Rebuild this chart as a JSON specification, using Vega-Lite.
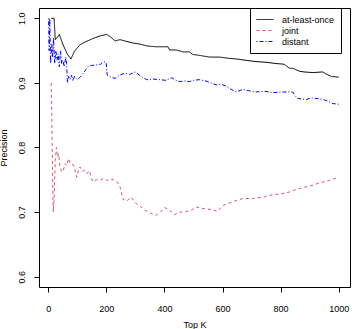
{
  "$schema": "https://vega.github.io/schema/vega-lite/v6.json",
  "width": 311,
  "height": 279,
  "autosize": {"type": "none"},
  "padding": {"left": 39, "top": 8, "right": 6, "bottom": 42},
  "background": "white",
  "config": {
    "font": "Liberation Sans",
    "view": {"stroke": "black", "strokeWidth": 1},
    "axis": {
      "grid": false, "domain": false, "tickColor": "black", "tickSize": 5, "tickWidth": 1,
      "labelFont": "Liberation Sans", "labelFontSize": 9, "labelColor": "black",
      "titleFont": "Liberation Sans", "titleFontSize": 9, "titleFontWeight": "normal", "titleColor": "black"
    },
    "legend": {
      "labelFont": "Liberation Sans", "labelFontSize": 9, "labelColor": "black"
    }
  },
  "data": {"values": [
    {"s":"at-least-once","k":10,"p":1.0},{"s":"at-least-once","k":20,"p":1.0},{"s":"at-least-once","k":24,"p":0.967},{"s":"at-least-once","k":30,"p":0.970},{"s":"at-least-once","k":38,"p":0.975},{"s":"at-least-once","k":50,"p":0.960},{"s":"at-least-once","k":65,"p":0.945},{"s":"at-least-once","k":78,"p":0.937},{"s":"at-least-once","k":90,"p":0.949},{"s":"at-least-once","k":109,"p":0.959},{"s":"at-least-once","k":130,"p":0.964},{"s":"at-least-once","k":155,"p":0.969},{"s":"at-least-once","k":180,"p":0.973},{"s":"at-least-once","k":201,"p":0.975},{"s":"at-least-once","k":215,"p":0.971},{"s":"at-least-once","k":230,"p":0.965},{"s":"at-least-once","k":247,"p":0.967},{"s":"at-least-once","k":263,"p":0.965},{"s":"at-least-once","k":290,"p":0.962},{"s":"at-least-once","k":316,"p":0.960},{"s":"at-least-once","k":343,"p":0.957},{"s":"at-least-once","k":371,"p":0.956},{"s":"at-least-once","k":412,"p":0.956},{"s":"at-least-once","k":418,"p":0.951},{"s":"at-least-once","k":440,"p":0.951},{"s":"at-least-once","k":464,"p":0.948},{"s":"at-least-once","k":486,"p":0.948},{"s":"at-least-once","k":498,"p":0.944},{"s":"at-least-once","k":516,"p":0.943},{"s":"at-least-once","k":555,"p":0.940},{"s":"at-least-once","k":590,"p":0.940},{"s":"at-least-once","k":623,"p":0.938},{"s":"at-least-once","k":650,"p":0.937},{"s":"at-least-once","k":681,"p":0.935},{"s":"at-least-once","k":715,"p":0.933},{"s":"at-least-once","k":750,"p":0.932},{"s":"at-least-once","k":784,"p":0.930},{"s":"at-least-once","k":812,"p":0.929},{"s":"at-least-once","k":830,"p":0.923},{"s":"at-least-once","k":846,"p":0.922},{"s":"at-least-once","k":865,"p":0.918},{"s":"at-least-once","k":881,"p":0.917},{"s":"at-least-once","k":911,"p":0.916},{"s":"at-least-once","k":945,"p":0.917},{"s":"at-least-once","k":960,"p":0.913},{"s":"at-least-once","k":975,"p":0.910},{"s":"at-least-once","k":1000,"p":0.909},

    {"s":"joint","k":10,"p":0.90},{"s":"joint","k":12,"p":0.85},{"s":"joint","k":14,"p":0.78},{"s":"joint","k":17,"p":0.70},{"s":"joint","k":20,"p":0.72},{"s":"joint","k":24,"p":0.78},{"s":"joint","k":28,"p":0.80},{"s":"joint","k":32,"p":0.785},{"s":"joint","k":36,"p":0.79},{"s":"joint","k":40,"p":0.77},{"s":"joint","k":46,"p":0.762},{"s":"joint","k":52,"p":0.765},{"s":"joint","k":58,"p":0.775},{"s":"joint","k":64,"p":0.772},{"s":"joint","k":69,"p":0.783},{"s":"joint","k":76,"p":0.775},{"s":"joint","k":86,"p":0.773},{"s":"joint","k":92,"p":0.765},{"s":"joint","k":98,"p":0.754},{"s":"joint","k":104,"p":0.765},{"s":"joint","k":109,"p":0.770},{"s":"joint","k":118,"p":0.763},{"s":"joint","k":126,"p":0.765},{"s":"joint","k":134,"p":0.760},{"s":"joint","k":141,"p":0.764},{"s":"joint","k":153,"p":0.747},{"s":"joint","k":165,"p":0.750},{"s":"joint","k":178,"p":0.749},{"s":"joint","k":190,"p":0.752},{"s":"joint","k":201,"p":0.749},{"s":"joint","k":212,"p":0.751},{"s":"joint","k":224,"p":0.750},{"s":"joint","k":235,"p":0.748},{"s":"joint","k":247,"p":0.739},{"s":"joint","k":257,"p":0.720},{"s":"joint","k":270,"p":0.717},{"s":"joint","k":286,"p":0.723},{"s":"joint","k":300,"p":0.714},{"s":"joint","k":315,"p":0.710},{"s":"joint","k":326,"p":0.705},{"s":"joint","k":349,"p":0.699},{"s":"joint","k":372,"p":0.695},{"s":"joint","k":386,"p":0.700},{"s":"joint","k":401,"p":0.707},{"s":"joint","k":418,"p":0.703},{"s":"joint","k":435,"p":0.696},{"s":"joint","k":453,"p":0.700},{"s":"joint","k":470,"p":0.700},{"s":"joint","k":493,"p":0.703},{"s":"joint","k":509,"p":0.708},{"s":"joint","k":525,"p":0.706},{"s":"joint","k":543,"p":0.705},{"s":"joint","k":560,"p":0.704},{"s":"joint","k":583,"p":0.701},{"s":"joint","k":601,"p":0.710},{"s":"joint","k":612,"p":0.712},{"s":"joint","k":635,"p":0.716},{"s":"joint","k":670,"p":0.721},{"s":"joint","k":704,"p":0.721},{"s":"joint","k":739,"p":0.723},{"s":"joint","k":773,"p":0.727},{"s":"joint","k":800,"p":0.728},{"s":"joint","k":830,"p":0.731},{"s":"joint","k":853,"p":0.735},{"s":"joint","k":876,"p":0.738},{"s":"joint","k":899,"p":0.740},{"s":"joint","k":933,"p":0.745},{"s":"joint","k":968,"p":0.749},{"s":"joint","k":1000,"p":0.754},

    {"s":"distant","k":1,"p":1.0},{"s":"distant","k":3,"p":0.95},{"s":"distant","k":5,"p":1.0},{"s":"distant","k":8,"p":0.93},{"s":"distant","k":12,"p":0.96},{"s":"distant","k":15,"p":0.94},{"s":"distant","k":18,"p":0.97},{"s":"distant","k":22,"p":0.93},{"s":"distant","k":26,"p":0.95},{"s":"distant","k":30,"p":0.935},{"s":"distant","k":34,"p":0.945},{"s":"distant","k":38,"p":0.925},{"s":"distant","k":42,"p":0.95},{"s":"distant","k":46,"p":0.93},{"s":"distant","k":50,"p":0.935},{"s":"distant","k":55,"p":0.925},{"s":"distant","k":60,"p":0.94},{"s":"distant","k":63,"p":0.93},{"s":"distant","k":66,"p":0.90},{"s":"distant","k":70,"p":0.91},{"s":"distant","k":75,"p":0.905},{"s":"distant","k":80,"p":0.912},{"s":"distant","k":85,"p":0.903},{"s":"distant","k":90,"p":0.91},{"s":"distant","k":100,"p":0.905},{"s":"distant","k":110,"p":0.909},{"s":"distant","k":120,"p":0.915},{"s":"distant","k":130,"p":0.921},{"s":"distant","k":138,"p":0.926},{"s":"distant","k":150,"p":0.927},{"s":"distant","k":167,"p":0.928},{"s":"distant","k":180,"p":0.929},{"s":"distant","k":189,"p":0.933},{"s":"distant","k":199,"p":0.932},{"s":"distant","k":203,"p":0.912},{"s":"distant","k":215,"p":0.909},{"s":"distant","k":230,"p":0.907},{"s":"distant","k":245,"p":0.912},{"s":"distant","k":264,"p":0.915},{"s":"distant","k":280,"p":0.913},{"s":"distant","k":299,"p":0.917},{"s":"distant","k":320,"p":0.910},{"s":"distant","k":339,"p":0.905},{"s":"distant","k":360,"p":0.906},{"s":"distant","k":385,"p":0.905},{"s":"distant","k":405,"p":0.904},{"s":"distant","k":425,"p":0.908},{"s":"distant","k":440,"p":0.904},{"s":"distant","k":454,"p":0.902},{"s":"distant","k":470,"p":0.903},{"s":"distant","k":486,"p":0.902},{"s":"distant","k":500,"p":0.904},{"s":"distant","k":520,"p":0.905},{"s":"distant","k":543,"p":0.903},{"s":"distant","k":560,"p":0.900},{"s":"distant","k":578,"p":0.897},{"s":"distant","k":595,"p":0.898},{"s":"distant","k":612,"p":0.895},{"s":"distant","k":630,"p":0.890},{"s":"distant","k":647,"p":0.886},{"s":"distant","k":670,"p":0.890},{"s":"distant","k":690,"p":0.888},{"s":"distant","k":715,"p":0.886},{"s":"distant","k":745,"p":0.887},{"s":"distant","k":773,"p":0.885},{"s":"distant","k":810,"p":0.886},{"s":"distant","k":842,"p":0.886},{"s":"distant","k":850,"p":0.880},{"s":"distant","k":859,"p":0.876},{"s":"distant","k":888,"p":0.874},{"s":"distant","k":905,"p":0.877},{"s":"distant","k":922,"p":0.876},{"s":"distant","k":940,"p":0.875},{"s":"distant","k":956,"p":0.873},{"s":"distant","k":980,"p":0.868},{"s":"distant","k":1000,"p":0.867}
  ]},
  "mark": {"type": "line", "strokeWidth": 1, "clip": true},
  "encoding": {
    "x": {"field": "k", "type": "quantitative", "title": "Top K",
          "scale": {"domain": [-32, 1039], "nice": false, "zero": false},
          "axis": {"values": [0, 200, 400, 600, 800, 1000], "format": "d", "labelPadding": 12, "titlePadding": 7, "labelFlush": false}},
    "y": {"field": "p", "type": "quantitative", "title": "Precision",
          "scale": {"domain": [0.584, 1.016], "nice": false, "zero": false},
          "axis": {"values": [0.6, 0.7, 0.8, 0.9, 1.0], "format": ".1f", "labelAngle": -90, "labelAlign": "center", "labelBaseline": "bottom", "labelPadding": 8, "titlePadding": 9, "labelFlush": false}},
    "color": {"field": "s", "type": "nominal",
              "scale": {"domain": ["at-least-once", "joint", "distant"], "range": ["black", "#DF536B", "#0000FF"]},
              "legend": {"title": null, "orient": "none", "legendX": 211, "legendY": 0, "symbolType": "stroke", "symbolSize": 289, "symbolStrokeWidth": 1, "clipHeight": 11, "rowPadding": 0, "padding": 6, "strokeColor": "black", "fillColor": "white", "labelOffset": 8, "labelFontSize": 9}},
    "strokeDash": {"field": "s", "type": "nominal",
              "scale": {"domain": ["at-least-once", "joint", "distant"], "range": [[1, 0], [3, 3], [1, 2, 4, 2]]},
              "legend": {"title": null, "orient": "none", "legendX": 211, "legendY": 0, "symbolType": "stroke", "symbolSize": 289, "symbolStrokeWidth": 1, "clipHeight": 11, "rowPadding": 0, "padding": 6, "strokeColor": "black", "fillColor": "white", "labelOffset": 8, "labelFontSize": 9}}
  }
}
